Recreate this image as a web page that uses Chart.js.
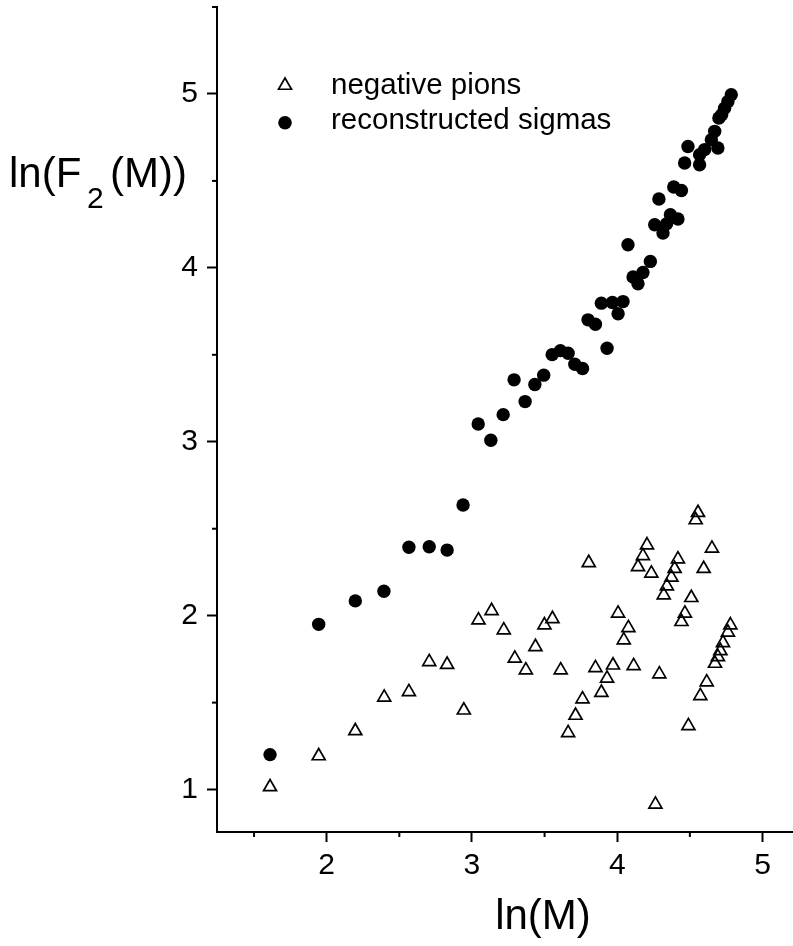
<!DOCTYPE html>
<html>
<head>
<meta charset="utf-8">
<script src="https://cdn.jsdelivr.net/npm/chart.js@4.4.1/dist/chart.umd.min.js"></script>
<style>
  html, body { margin: 0; padding: 0; background: #fff; }
  #wrap { width: 793px; height: 946px; }
</style>
</head>
<body>
<div id="wrap"><canvas id="f2-chart" width="793" height="946"></canvas></div>
<script>
// ln(M) / ln(F2(M)) values
var pionX = [1.610, 1.945, 2.197, 2.396, 2.566, 2.706, 2.829, 2.944, 3.045, 3.135,
             3.219, 3.295, 3.371, 3.437, 3.499, 3.554, 3.611, 3.662, 3.713, 3.761,
             3.804, 3.850, 3.891, 3.930, 3.971, 4.006, 4.045, 4.077, 4.113, 4.143,
             4.177, 4.205, 4.235, 4.263, 4.290, 4.320, 4.342, 4.373, 4.395, 4.418,
             4.442, 4.466, 4.490, 4.510, 4.540, 4.556, 4.572, 4.595, 4.616, 4.652,
             4.673, 4.693, 4.710, 4.728, 4.762, 4.779];
var pionY = [1.015, 1.193, 1.337, 1.530, 1.562, 1.734, 1.719, 1.456, 1.974, 2.028,
             1.917, 1.754, 1.687, 1.821, 1.946, 1.982, 1.687, 1.326, 1.426, 1.520,
             2.304, 1.700, 1.558, 1.639, 1.715, 2.013, 1.859, 1.930, 1.711, 2.281,
             2.344, 2.406, 2.243, 0.915, 1.664, 2.118, 2.170, 2.220, 2.270, 2.325,
             1.965, 2.013, 1.366, 2.103, 2.550, 2.592, 1.539, 2.270, 1.618, 2.387,
             1.725, 1.763, 1.798, 1.844, 1.904, 1.946];

var sigmaX = [1.610, 1.945, 2.197, 2.394, 2.566, 2.706, 2.829, 2.939, 3.043, 3.130,
              3.215, 3.290, 3.366, 3.433, 3.494, 3.552, 3.609, 3.662, 3.708, 3.761,
              3.799, 3.850, 3.891, 3.930, 3.967, 4.006, 4.040, 4.074, 4.109, 4.143,
              4.177, 4.228, 4.258, 4.287, 4.315, 4.340, 4.366, 4.389, 4.418, 4.442,
              4.464, 4.487, 4.567, 4.567, 4.602, 4.648, 4.671, 4.693, 4.700, 4.719,
              4.739, 4.762, 4.785];
var sigmaY = [1.201, 1.950, 2.085, 2.140, 2.393, 2.396, 2.377, 2.636, 3.102, 3.009,
              3.156, 3.356, 3.231, 3.329, 3.383, 3.501, 3.524, 3.509, 3.446, 3.421,
              3.701, 3.676, 3.797, 3.538, 3.801, 3.736, 3.806, 4.133, 3.947, 3.908,
              3.973, 4.037, 4.248, 4.396, 4.200, 4.253, 4.305, 4.465, 4.281, 4.445,
              4.603, 4.698, 4.651, 4.593, 4.680, 4.737, 4.785, 4.689, 4.862, 4.881,
              4.918, 4.956, 4.996];

var xTicks = [1.5, 2, 2.5, 3, 3.5, 4, 4.5, 5];
var yTicks = [1, 1.5, 2, 2.5, 3, 3.5, 4, 4.5, 5, 5.5];
var seriesNames = ['negative pions', 'reconstructed sigmas'];

var FONT = '"Liberation Sans", Arial, Helvetica, sans-serif';

function toPoints(xs, ys) {
    return xs.map(function (x, i) { return { x: x, y: ys[i] }; });
}

function isMajor(v) { return Math.abs(v - Math.round(v)) < 1e-6; }

function drawTriangle(ctx, x, y, r) {
    ctx.beginPath();
    ctx.moveTo(x, y - r);
    ctx.lineTo(x + r * Math.cos(Math.PI / 6), y + r / 2);
    ctx.lineTo(x - r * Math.cos(Math.PI / 6), y + r / 2);
    ctx.closePath();
    ctx.stroke();
}

// minor ticks, axis titles (with subscript) and the in-plot legend
var decorPlugin = {
    id: 'decor',
    afterDraw: function (chart) {
        var ctx = chart.ctx;
        var xs = chart.scales.x, ys = chart.scales.y;
        var area = chart.chartArea;
        ctx.save();
        ctx.strokeStyle = '#000';
        ctx.lineWidth = 2;
        xs.ticks.forEach(function (t) {
            if (isMajor(t.value)) return;
            var px = xs.getPixelForValue(t.value);
            ctx.beginPath(); ctx.moveTo(px, area.bottom); ctx.lineTo(px, area.bottom + 5); ctx.stroke();
        });
        ys.ticks.forEach(function (t) {
            if (isMajor(t.value)) return;
            var py = ys.getPixelForValue(t.value);
            ctx.beginPath(); ctx.moveTo(area.left, py); ctx.lineTo(area.left - 5, py); ctx.stroke();
        });

        ctx.fillStyle = '#000';
        ctx.textBaseline = 'alphabetic';
        ctx.font = '42px ' + FONT;
        ctx.textAlign = 'left';
        ctx.fillText('ln(F', 9, 187);
        ctx.font = '30px ' + FONT;
        ctx.fillText('2', 87, 208);
        ctx.font = '42px ' + FONT;
        ctx.textAlign = 'right';
        ctx.fillText('(M))', 187, 187);
        ctx.textAlign = 'center';
        ctx.fillText('ln(M)', 543, 929);

        // legend
        ctx.lineWidth = 1.7;
        drawTriangle(ctx, 285, 85.5, 7.5);
        ctx.beginPath();
        ctx.arc(285, 122.7, 6.8, 0, Math.PI * 2);
        ctx.fill();
        ctx.font = '29.5px ' + FONT;
        ctx.textAlign = 'left';
        ctx.fillText(seriesNames[0], 331, 94);
        ctx.fillText(seriesNames[1], 331, 129);
        ctx.restore();
    }
};

var ctx = document.getElementById('f2-chart');
var f2Chart = new Chart(ctx, {
    type: 'scatter',
    data: {
        datasets: [
            {
                label: seriesNames[0],
                data: toPoints(pionX, pionY),
                pointStyle: 'triangle',
                pointRadius: 7.5,
                pointHoverRadius: 7.5,
                borderWidth: 1.7,
                borderColor: '#000',
                backgroundColor: 'rgba(0,0,0,0)'
            },
            {
                label: seriesNames[1],
                data: toPoints(sigmaX, sigmaY),
                pointStyle: 'circle',
                pointRadius: 6.7,
                pointHoverRadius: 6.7,
                borderWidth: 0,
                borderColor: '#000',
                backgroundColor: '#000'
            }
        ]
    },
    options: {
        responsive: false,
        animation: false,
        devicePixelRatio: 1,
        layout: { autoPadding: false, padding: { top: 7, right: 0, left: 0, bottom: 0 } },
        plugins: { legend: { display: false }, tooltip: { enabled: false } },
        scales: {
            x: {
                type: 'linear',
                min: 1.245,
                max: 5.21,
                afterBuildTicks: function (scale) { scale.ticks = xTicks.map(function (v) { return { value: v }; }); },
                afterFit: function (scale) {
                    scale.height = 114;
                    scale.paddingLeft = 0; scale.paddingRight = 0;
                },
                border: { display: true, color: '#000', width: 2 },
                grid: {
                    display: true,
                    drawOnChartArea: false,
                    drawTicks: true,
                    tickLength: 10,
                    tickWidth: 2,
                    tickColor: function (c) { return c.tick && isMajor(c.tick.value) ? '#000' : 'rgba(0,0,0,0)'; }
                },
                ticks: {
                    autoSkip: false,
                    maxRotation: 0,
                    padding: 6,
                    color: '#000',
                    font: { family: FONT, size: 30 },
                    callback: function (v) { return isMajor(v) ? String(Math.round(v)) : ''; }
                }
            },
            y: {
                type: 'linear',
                min: 0.756,
                max: 5.5,
                afterBuildTicks: function (scale) { scale.ticks = yTicks.map(function (v) { return { value: v }; }); },
                afterFit: function (scale) {
                    scale.width = 217;
                    scale.paddingTop = 0; scale.paddingBottom = 0;
                },
                border: { display: true, color: '#000', width: 2 },
                grid: {
                    display: true,
                    drawOnChartArea: false,
                    drawTicks: true,
                    tickLength: 10,
                    tickWidth: 2,
                    tickColor: function (c) { return c.tick && isMajor(c.tick.value) ? '#000' : 'rgba(0,0,0,0)'; }
                },
                ticks: {
                    autoSkip: false,
                    padding: 9,
                    color: '#000',
                    font: { family: FONT, size: 30 },
                    callback: function (v) { return isMajor(v) ? String(Math.round(v)) : ''; }
                }
            }
        }
    },
    plugins: [decorPlugin]
});
</script>
</body>
</html>
